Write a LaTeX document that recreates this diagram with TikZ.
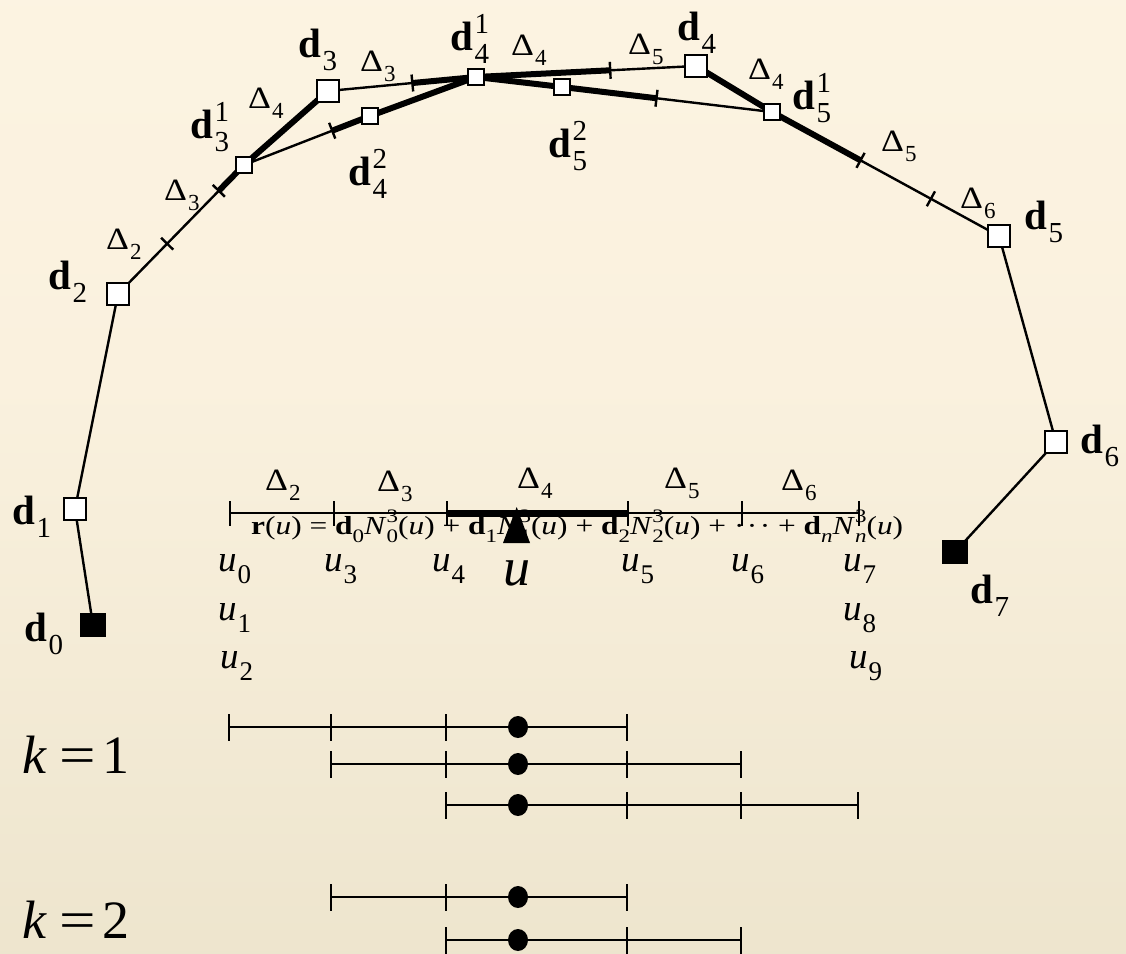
\documentclass[tikz,border=0pt]{standalone}
\usepackage{fontspec}
\setmainfont{Liberation Serif}
\usetikzlibrary{calc,shapes.geometric}
\pgfdeclarelayer{paper}
\pgfdeclarelayer{under}
\pgfsetlayers{paper,under,main}

\definecolor{bgtop}{RGB}{254,246,230}
\definecolor{bgmid}{RGB}{250,241,222}
\definecolor{bgbot}{RGB}{227,219,192}
\pgfdeclareverticalshading{paperfade}{100bp}{color(0bp)=(bgbot); color(55bp)=(bgmid); color(100bp)=(bgtop)}

% sub- and superscript pair set at a given size
\newcommand\SubSup[3]{{\fontsize{#1}{#1}\selectfont\rlap{\raisebox{0.58em}{#3}}\raisebox{-0.45em}{#2}}}
% control point label d_i^j
\newcommand\dlab[2]{{\fontsize{41}{41}\selectfont\textbf{d}\kern1.5pt\SubSup{29}{#1}{#2}}}
% knot span label Delta_i
\newcommand\Dlab[1]{{\fontsize{31}{31}\selectfont\scalebox{1.15}[1]{Δ}\kern1pt\SubSup{23}{#1}{}}}
% parameter label u_i
\newcommand\ulab[1]{{\fontsize{37}{37}\selectfont\textit{u}\kern1pt\SubSup{27}{#1}{}}}
% equation pieces
\newcommand\es[2]{\SubSup{19}{#1}{#2}}
% degree label k = #1
\newcommand\klab[1]{{\fontsize{54}{54}\selectfont\textit{k}\kern13pt\scalebox{1.2}[1]{=}\kern6pt#1}}
% short cross mark at point #1, perpendicular to the direction towards #2
\newcommand\crossmark[2]{\draw[leg] ($(#1)!8.5pt!90:(#2)$) -- ($(#1)!8.5pt!-90:(#2)$);}

\begin{document}
\begin{tikzpicture}[x=1pt,y=-1pt,
  leg/.style={line width=2.4pt},
  heavy/.style={line width=6pt},
  pt/.style={draw, line width=2.4pt, fill=white, minimum size=21.5pt, inner sep=0pt},
  spt/.style={pt, minimum size=16pt},
  endpt/.style={fill=black, minimum width=26pt, minimum height=24pt, inner sep=0pt},
  lbl/.style={anchor=base west, inner sep=0pt},
  axisline/.style={line width=2.8pt},
  span/.style={line width=2.8pt},
  knotdot/.style={fill=black, ellipse, minimum width=20pt, minimum height=22pt, inner sep=0pt},
]
\useasboundingbox (0,0) rectangle (1126,953);
\begin{pgfonlayer}{paper}
  \shade[shading=paperfade] (0,0) rectangle (1126,953);
\end{pgfonlayer}

% ---------- control polygon and inserted points ----------
\node[endpt] (d0) at (93,625) {};
\node[pt] (d1) at (75,509) {};
\node[pt] (d2) at (118,294) {};
\node[spt] (d31) at (244,165) {};
\node[pt] (d3) at (328,91) {};
\node[spt] (d42) at (370,116) {};
\node[spt] (d41) at (476,77) {};
\node[spt] (d52) at (562,87) {};
\node[pt] (d4) at (696,66) {};
\node[spt] (d51) at (772,112) {};
\node[pt] (d5) at (999,236) {};
\node[pt] (d6) at (1056,442) {};
\node[endpt] (d7) at (955,552) {};

\coordinate (tA) at ($(d2)!0.39!(d31)$);
\coordinate (tB) at ($(d2)!0.80!(d31)$);
\coordinate (tC) at ($(d3)!0.57!(d41)$);
\coordinate (tD) at ($(d41)!0.61!(d4)$);
\coordinate (tE) at ($(d31)!0.70!(d42)$);
\coordinate (tF) at ($(d52)!0.45!(d51)$);
\coordinate (tG) at ($(d51)!0.39!(d5)$);
\coordinate (tH) at ($(d51)!0.70!(d5)$);

\begin{pgfonlayer}{under}
  \draw[leg] (d0.center) -- (d1.center) -- (d2.center) -- (tB);
  \draw[heavy] (tB) -- (d31.center) -- (d3.center);
  \draw[leg] (d3.center) -- (tC);
  \draw[heavy] (tC) -- (d41.center) -- (tD);
  \draw[leg] (tD) -- (d4.center);
  \draw[heavy] (d4.center) -- (d51.center) -- (tG);
  \draw[leg] (tG) -- (d5.center) -- (d6.center) -- (d7.center);
  \draw[leg] (d31.center) -- (tE);
  \draw[heavy, line join=round] (tE) -- (d42.center) -- (d41.center) -- (d52.center) -- (tF);
  \draw[leg] (tF) -- (d51.center);
  \crossmark{tA}{d31}
  \crossmark{tB}{d31}
  \crossmark{tC}{d41}
  \crossmark{tD}{d4}
  \crossmark{tE}{d42}
  \crossmark{tF}{d51}
  \crossmark{tG}{d5}
  \crossmark{tH}{d5}
\end{pgfonlayer}

% point labels
\node[lbl] (l-d0) at (24,641) {\dlab{0}{}};
\node[lbl] (l-d1) at (12,524) {\dlab{1}{}};
\node[lbl] (l-d2) at (48,289) {\dlab{2}{}};
\node[lbl] (l-d3) at (298,57) {\dlab{3}{}};
\node[lbl] (l-d31) at (190,138) {\dlab{3}{1}};
\node[lbl] (l-d42) at (348,185) {\dlab{4}{2}};
\node[lbl] (l-d41) at (450,50) {\dlab{4}{1}};
\node[lbl] (l-d52) at (548,157) {\dlab{5}{2}};
\node[lbl] (l-d4) at (677,40) {\dlab{4}{}};
\node[lbl] (l-d51) at (792,109) {\dlab{5}{1}};
\node[lbl] (l-d5) at (1024,229) {\dlab{5}{}};
\node[lbl] (l-d6) at (1080,453) {\dlab{6}{}};
\node[lbl] (l-d7) at (970,603) {\dlab{7}{}};

% span labels along the polygon
\node[lbl] (p-D2) at (106,249) {\Dlab{2}};
\node[lbl] (p-D3a) at (164,200) {\Dlab{3}};
\node[lbl] (p-D4a) at (248,108) {\Dlab{4}};
\node[lbl] (p-D3b) at (360,71) {\Dlab{3}};
\node[lbl] (p-D4b) at (511,55) {\Dlab{4}};
\node[lbl] (p-D5a) at (628,54) {\Dlab{5}};
\node[lbl] (p-D4c) at (748,79) {\Dlab{4}};
\node[lbl] (p-D5b) at (881,151) {\Dlab{5}};
\node[lbl] (p-D6) at (960,208) {\Dlab{6}};

% ---------- knot axis ----------
\node[lbl] (eq) at (251,534) {\resizebox{652pt}{\height}{\fontsize{26}{26}\selectfont
  \textbf{r}(\textit{u}) = \textbf{d}\es{0}{}\textit{N}\es{0}{3}(\textit{u}) + \textbf{d}\es{1}{}\textit{N}\es{1}{3}(\textit{u}) + \textbf{d}\es{2}{}\textit{N}\es{2}{3}(\textit{u}) + ·\kern2pt·\kern2pt· + \textbf{d}\es{\textit{n}}{}\textit{N}\es{\textit{n}}{3}(\textit{u})}};

\node[lbl] (x-D2) at (265,490) {\Dlab{2}};
\node[lbl] (x-D3) at (377,491) {\Dlab{3}};
\node[lbl] (x-D4) at (517,488) {\Dlab{4}};
\node[lbl] (x-D5) at (664,488) {\Dlab{5}};
\node[lbl] (x-D6) at (781,490) {\Dlab{6}};

\coordinate (a0) at (230,513);
\coordinate (a1) at (334,513);
\coordinate (a2) at (447,513);
\coordinate (a3) at (628,513);
\coordinate (a4) at (742,513);
\coordinate (a5) at (859,513);
\draw[axisline] (a0) -- (a5);
\draw[line width=7pt] (a2) -- (a3);
\foreach \i in {0,...,5}{
  \draw[axisline] ($(a\i)+(0,-12)$) -- ($(a\i)+(0,13)$);
}
\fill (516.7,507) -- (503,543) -- (530,543) -- cycle;
\node[anchor=base, inner sep=0pt] (u) at (517,585) {\fontsize{54}{54}\selectfont\textit{u}};

\node[lbl] (u0) at (218,571) {\ulab{0}};
\node[lbl] (u1) at (218,620) {\ulab{1}};
\node[lbl] (u2) at (220,668) {\ulab{2}};
\node[lbl] (u3) at (324,571) {\ulab{3}};
\node[lbl] (u4) at (432,571) {\ulab{4}};
\node[lbl] (u5) at (621,571) {\ulab{5}};
\node[lbl] (u6) at (731,571) {\ulab{6}};
\node[lbl] (u7) at (843,571) {\ulab{7}};
\node[lbl] (u8) at (843,620) {\ulab{8}};
\node[lbl] (u9) at (849,668) {\ulab{9}};

% ---------- supports of the basis functions ----------
\node[lbl] (k1) at (22,773) {\klab{1}};
\node[lbl] (k2) at (22,938) {\klab{2}};

\foreach \y/\xs in {727/{229,331,446,627}, 764/{331,446,627,741}, 805/{446,627,741,858},
                    897/{331,446,627}, 940/{446,627,741}}{
  \foreach \x in \xs {
    \draw[span] (\x,\y-13) -- (\x,\y+14);
  }
}
\coordinate (sa1) at (229,727); \coordinate (sa4) at (627,727);
\coordinate (sb1) at (331,764); \coordinate (sb4) at (741,764);
\coordinate (sc1) at (446,805); \coordinate (sc4) at (858,805);
\coordinate (sd1) at (331,897); \coordinate (sd3) at (627,897);
\coordinate (se1) at (446,940); \coordinate (se3) at (741,940);
\draw[span] (sa1) -- (sa4);
\draw[span] (sb1) -- (sb4);
\draw[span] (sc1) -- (sc4);
\draw[span] (sd1) -- (sd3);
\draw[span] (se1) -- (se3);
\node[knotdot] (ka) at (518,727) {};
\node[knotdot] (kb) at (518,764) {};
\node[knotdot] (kc) at (518,805) {};
\node[knotdot] (kd) at (518,897) {};
\node[knotdot] (ke) at (518,940) {};
\end{tikzpicture}
\end{document}
